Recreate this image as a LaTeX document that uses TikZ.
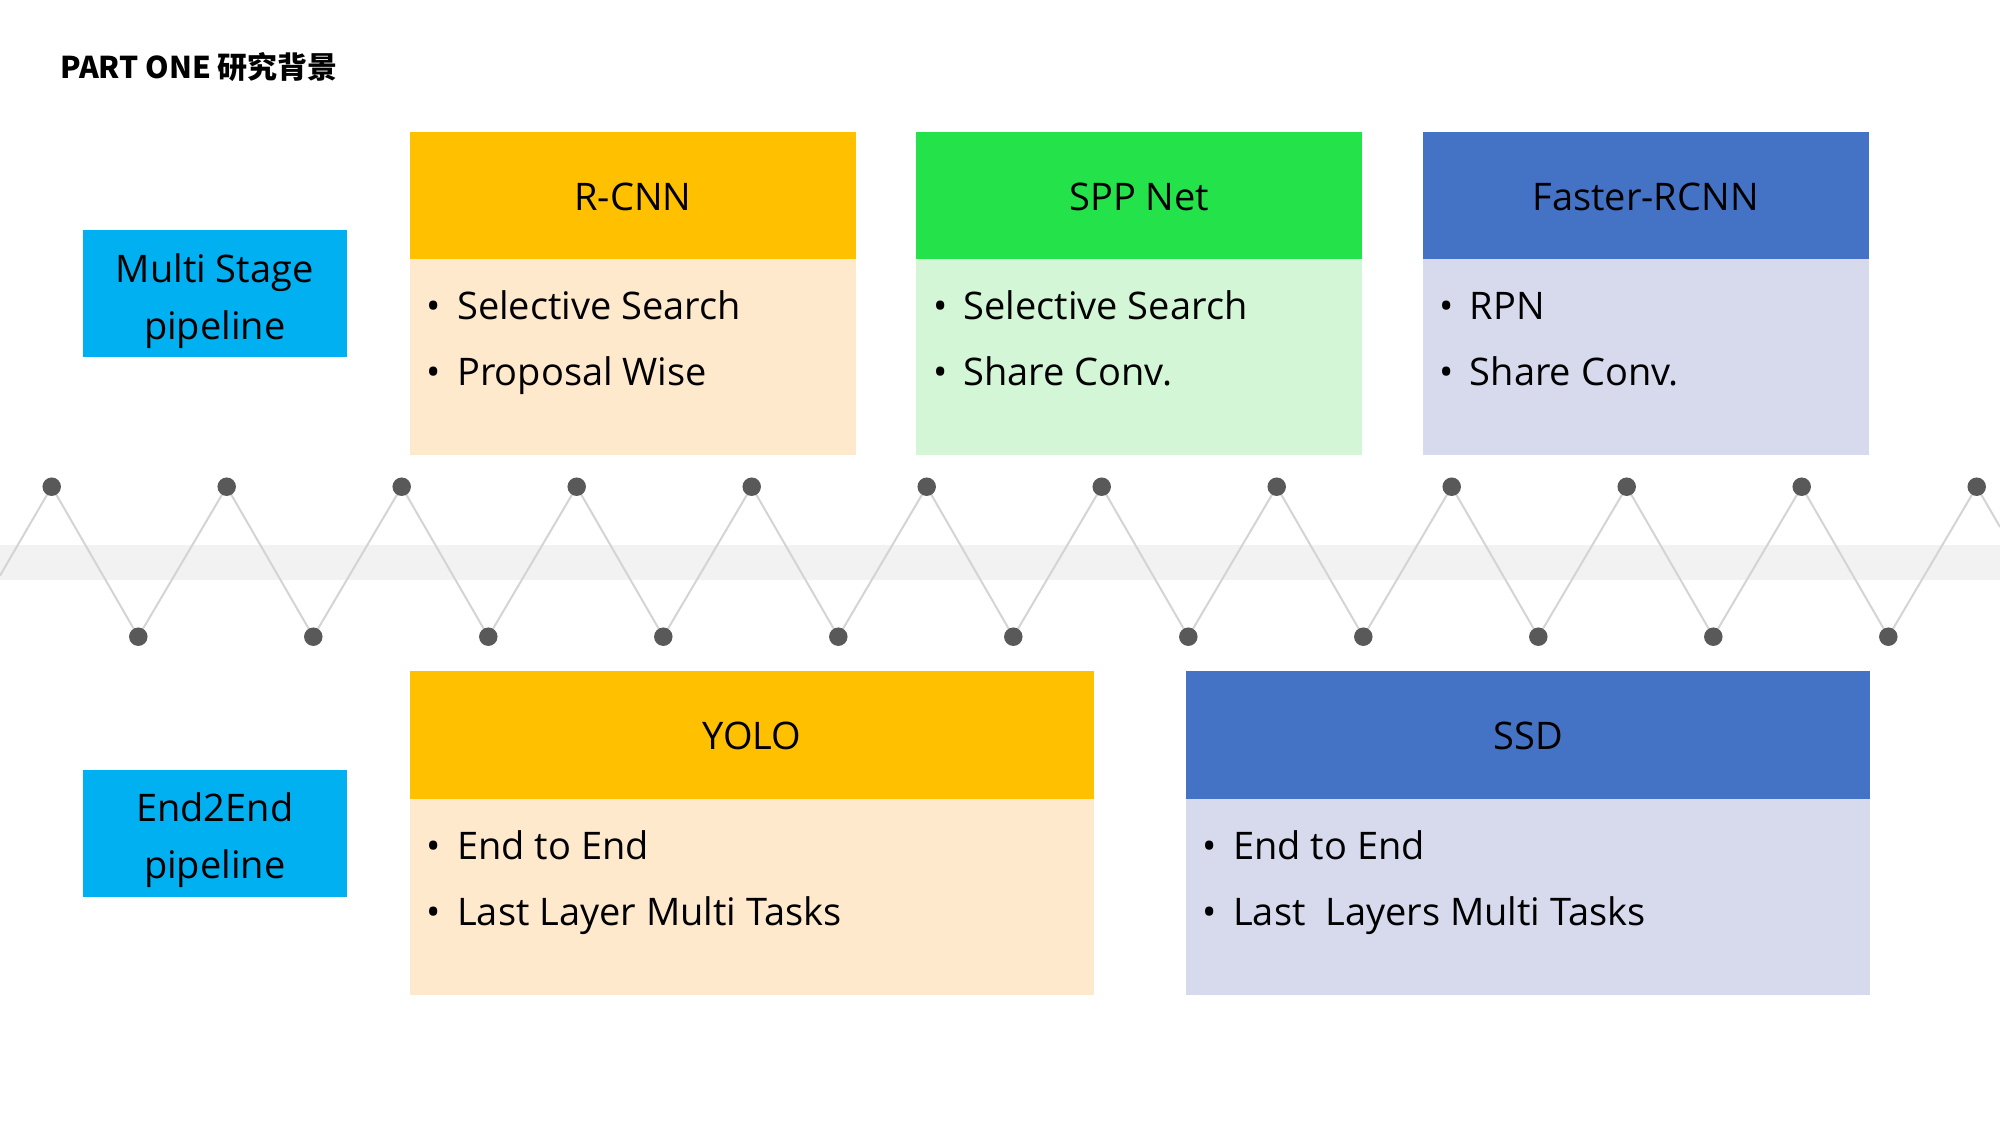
\documentclass[tikz,border=0pt]{standalone}
\usepackage{fontspec}
\setmainfont{Open Sans}
\newfontfamily\cjk{Noto Sans CJK SC}
\definecolor{orgH}{HTML}{FFC000}
\definecolor{orgB}{HTML}{FFE9CD}
\definecolor{grnH}{HTML}{24E24A}
\definecolor{grnB}{HTML}{D3F6D7}
\definecolor{bluH}{HTML}{4472C4}
\definecolor{bluB}{HTML}{D6DAEC}
\definecolor{cyanL}{HTML}{00B0F0}
\definecolor{dotC}{HTML}{595959}
\definecolor{lineC}{HTML}{D4D4D4}
\definecolor{bandC}{HTML}{F2F2F2}
\tikzset{
  hdr/.style={anchor=north west, minimum width=446pt, minimum height=128pt, inner sep=0pt, outer sep=0pt, draw=none},
  bodybox/.style={anchor=north west, minimum width=446pt, minimum height=196pt, inner sep=0pt, outer sep=0pt, draw=none},
  wide/.style={minimum width=684pt},
  lbl/.style={anchor=north west, minimum width=264pt, minimum height=127pt, inner sep=0pt, outer sep=0pt, fill=cyanL},
  ttl/.style={anchor=base, inner sep=0pt, font=\fontsize{38}{46}\selectfont},
  blt/.style={anchor=base, inner sep=0pt, font=\fontsize{38}{46}\selectfont},
  itm/.style={anchor=base west, inner sep=0pt, font=\fontsize{38}{46}\selectfont},
  dotn/.style={circle, fill=dotC, minimum size=18.5pt, inner sep=0pt},
}
\begin{document}
\begin{tikzpicture}[x=1pt,y=-1pt]
\useasboundingbox (0,0) rectangle (2000,1125);
% title
\node[anchor=base west, inner sep=0pt, font=\cjk\bfseries\fontsize{30}{36}\selectfont] (title) at (60,78) {PART ONE 研究背景};
% band and zigzag
\fill[bandC] (0,545) rectangle (2000,580);
\coordinate (L) at (0,575.6);
\coordinate (R) at (2000,527);
\foreach \i in {0,...,11} \coordinate (t\i) at ({51.7+175*\i},486.7);
\foreach \i in {0,...,10} \coordinate (b\i) at ({138.3+175*\i},636.7);
\draw[lineC, line width=2pt] (L) \foreach \i in {0,...,10} { -- (t\i) -- (b\i) } -- (t11) -- (R);
\foreach \i in {0,...,11} \node[dotn] (dt\i) at (t\i) {};
\foreach \i in {0,...,10} \node[dotn] (db\i) at (b\i) {};
% left labels
\node[lbl] (ms) at (82.7,230) {};
\node[ttl] (ms1) at (214.7,282) {Multi Stage};
\node[ttl] (ms2) at (214.7,339) {pipeline};
\node[lbl] (ee) at (82.7,769.5) {};
\node[ttl] (ee1) at (214.7,821.5) {End2End};
\node[ttl] (ee2) at (214.7,878.5) {pipeline};
% R-CNN
\node[hdr, fill=orgH] (rh) at (410,131.7) {};
\node[bodybox, fill=orgB] (rb) at (410,259.3) {};
\node[ttl] (rt) at (633,210) {R-CNN};
\node[blt] (rd1) at (434,319) {•};
\node[itm] (ri1) at (457,319) {Selective Search};
\node[blt] (rd2) at (434,385.7) {•};
\node[itm] (ri2) at (457,385.7) {Proposal Wise};
% SPP Net
\node[hdr, fill=grnH] (sh) at (916.3,131.7) {};
\node[bodybox, fill=grnB] (sb) at (916.3,259.3) {};
\node[ttl] (st) at (1139.3,210) {SPP Net};
\node[blt] (sd1) at (940.3,319) {•};
\node[itm] (si1) at (963.3,319) {Selective Search};
\node[blt] (sd2) at (940.3,385.7) {•};
\node[itm] (si2) at (963.3,385.7) {Share Conv.};
% Faster-RCNN
\node[hdr, fill=bluH] (fh) at (1422.7,131.7) {};
\node[bodybox, fill=bluB] (fb) at (1422.7,259.3) {};
\node[ttl] (ft) at (1645.7,210) {Faster-RCNN};
\node[blt] (fd1) at (1446.7,319) {•};
\node[itm] (fi1) at (1469.7,319) {RPN};
\node[blt] (fd2) at (1446.7,385.7) {•};
\node[itm] (fi2) at (1469.7,385.7) {Share Conv.};
% YOLO
\node[hdr, wide, fill=orgH] (yh) at (410,671) {};
\node[bodybox, wide, fill=orgB] (yb) at (410,798.5) {};
\node[ttl] (yt) at (752,749) {YOLO};
\node[blt] (yd1) at (434,859) {•};
\node[itm] (yi1) at (457,859) {End to End};
\node[blt] (yd2) at (434,925.7) {•};
\node[itm] (yi2) at (457,925.7) {Last Layer Multi Tasks};
% SSD
\node[hdr, wide, fill=bluH] (dh) at (1186,671) {};
\node[bodybox, wide, fill=bluB] (db) at (1186,798.5) {};
\node[ttl] (dt) at (1528,749) {SSD};
\node[blt] (dd1) at (1210,859) {•};
\node[itm] (di1) at (1233,859) {End to End};
\node[blt] (dd2) at (1210,925.7) {•};
\node[itm] (di2) at (1233,925.7) {Last\ \ Layers Multi Tasks};
\end{tikzpicture}
\end{document}
